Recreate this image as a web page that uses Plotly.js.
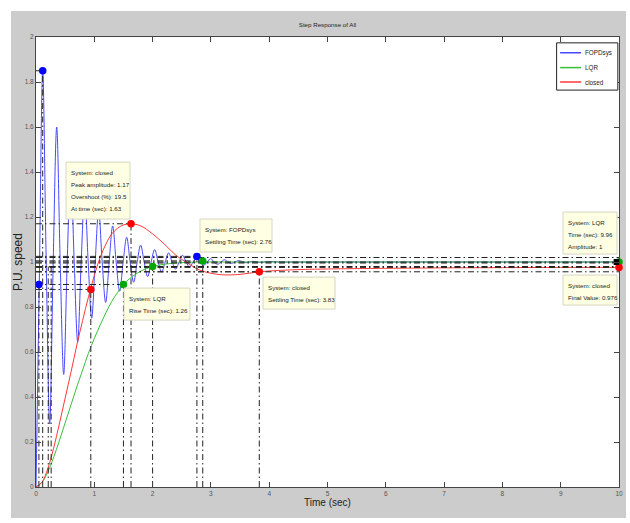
<!DOCTYPE html>
<html><head><meta charset="utf-8">
<script src="https://cdn.plot.ly/plotly-3.0.1.min.js"></script>
<style>
html,body{margin:0;padding:0;background:#ffffff;}
#chart{position:absolute;left:11px;top:11px;width:615px;height:507px;}
</style></head><body><div id="chart"></div><script>
// ---- data ----
const seriesNames = ["FOPDsys", "LQR", "closed"];
const seriesColors = ["#4848ff", "#38c038", "#ff3838"];
const xTicks = [0,1,2,3,4,5,6,7,8,9,10];
const yTicks = [0,0.2,0.4,0.6,0.8,1,1.2,1.4,1.6,1.8,2];

const blueT = [0,0.057,0.115,0.175,0.235,0.295,0.355,0.415,0.475,0.535,0.595,0.655,0.715,0.775,0.835,0.895,0.955,1.015,1.075,1.135,1.195,1.255,1.315,1.375,1.435,1.495,1.555,1.615,1.675,1.735,1.795,1.855,1.915,1.975,2.035,2.095,2.155,2.215,2.275,2.335,2.395,2.455,2.515,2.575,2.635,2.695,2.755,2.815,2.875,2.935,2.995,3.055,3.115,3.175,3.235,3.295,3.355,3.415,3.475,3.6,3.72,3.84,3.96,4.2,5,6,7,8,9,10];
const blueY = [0,0.92,1.85,1.0,0.28,1.0,1.60,1.0,0.50,1.0,1.42,1.0,0.645,1.0,1.31,1.0,0.75,1.0,1.23,1.0,0.82,1.0,1.16,1.0,0.87,1.0,1.11,1.0,0.91,1.0,1.075,1.0,0.935,1.0,1.055,1.0,0.955,1.0,1.04,1.0,0.968,1.0,1.03,1.0,0.978,1.0,1.022,1.0,0.985,1.0,1.015,1.0,0.99,1.0,1.01,1.0,0.994,1.0,1.006,0.997,1.003,0.998,1.002,1.0,1.0,1.0,1.0,1.0,1.0,1.0];

const greenT = [0,0.1,0.2,0.3,0.4,0.5,0.6,0.7,0.8,0.9,1.0,1.1,1.2,1.3,1.4,1.5,1.6,1.8,2.0,2.2,2.5,2.86,3.5,5,7,10];
const greenY = [0,0.02,0.065,0.13,0.205,0.285,0.365,0.445,0.52,0.595,0.66,0.72,0.775,0.825,0.865,0.9,0.925,0.96,0.98,0.99,0.997,1.0,1.0,1.0,1.0,1.0];

const redT = [0,0.1,0.2,0.3,0.4,0.5,0.6,0.7,0.8,0.9,1.0,1.1,1.2,1.3,1.4,1.5,1.63,1.8,2.0,2.2,2.4,2.6,2.8,3.0,3.2,3.5,3.83,4.2,4.6,5,6,7,8,9,10];
const redY = [0,0.02,0.08,0.17,0.28,0.395,0.51,0.63,0.74,0.845,0.94,1.02,1.08,1.125,1.15,1.165,1.17,1.16,1.125,1.08,1.03,0.995,0.965,0.95,0.943,0.945,0.9565,0.963,0.967,0.969,0.972,0.974,0.975,0.976,0.976];

// characteristic points (MATLAB step-response markers)
const blueMkT = [0.05,0.115,2.76];
const blueMkY = [0.9,1.85,1.025];
const greenMkT = [1.5,2.0,2.86,10];
const greenMkY = [0.9,0.98,1.005,1.0];
const redMkT = [0.94,1.63,3.83,10];
const redMkY = [0.878,1.17,0.9565,0.976];
const cursorT = [9.96];
const cursorY = [1.0];
// extra 10% rise-time guide lines
const riseStartT = [0.21,0.26];
const riseStartY = [0.98,0.98];
// settling-band / steady-state levels drawn across the plot
const refLevels = [1.02,1.0,0.9955,0.98,0.976,0.9565];

// data tips
const tips = [
  {x:0.515, y:1.444, w:64, h:57, lines:["System: closed","Peak amplitude: 1.17","Overshoot (%): 19.5","At time (sec): 1.63"]},
  {x:2.813, y:1.191, w:72, h:33, lines:["System: FOPDsys","Settling Time (sec): 2.76"]},
  {x:1.509, y:0.884, w:66, h:32, lines:["System: LQR","Rise Time (sec): 1.26"]},
  {x:3.894, y:0.933, w:72, h:32, lines:["System: closed","Settling Time (sec): 3.83"]},
  {x:9.04, y:1.222, w:54, h:42, lines:["System: LQR","Time (sec): 9.96","Amplitude: 1"]},
  {x:9.04, y:0.942, w:54, h:30, lines:["System: closed","Final Value: 0.976"]}
];

// ---- build traces ----
const FONT = '"Liberation Sans",Arial,sans-serif';
const lx = [], ly = [];
function seg(x0,y0,x1,y1){ lx.push(x0,x1,null); ly.push(y0,y1,null); }
refLevels.forEach(v => seg(0,v,10,v));
const allMk = [[blueMkT,blueMkY],[greenMkT,greenMkY],[redMkT,redMkY],[riseStartT,riseStartY]];
allMk.forEach(([ts,vs]) => ts.forEach((t,i) => {
  if (t < 9.9) { seg(t,0,t,vs[i]); seg(0,vs[i],t,vs[i]); }
}));

const traces = [
  {x:blueT, y:blueY, name:seriesNames[0], mode:'lines', showlegend:false, line:{color:seriesColors[0], width:1, shape:'spline', smoothing:1}},
  {x:greenT, y:greenY, name:seriesNames[1], mode:'lines', showlegend:false, line:{color:seriesColors[1], width:1, shape:'spline'}},
  {x:redT, y:redY, name:seriesNames[2], mode:'lines', showlegend:false, line:{color:seriesColors[2], width:1, shape:'spline'}},
  {x:lx, y:ly, mode:'lines', showlegend:false, hoverinfo:'skip', line:{color:'#222', width:1, dash:'6px,3px,1.5px,3px'}},
  {x:blueMkT, y:blueMkY, mode:'markers', showlegend:false, cliponaxis:false, marker:{color:'#0000ff', size:7.5}},
  {x:greenMkT, y:greenMkY, mode:'markers', showlegend:false, cliponaxis:false, marker:{color:'#00a800', size:7.5}},
  {x:redMkT, y:redMkY, mode:'markers', showlegend:false, cliponaxis:false, marker:{color:'#ff0000', size:7.5}},
  {x:cursorT, y:cursorY, mode:'markers', showlegend:false, cliponaxis:false, marker:{color:'#000', size:6, symbol:'square'}}
];

const shapes = [], annotations = [];
tips.forEach(b => {
  shapes.push({type:'rect', xref:'x', yref:'y', xsizemode:'pixel', ysizemode:'pixel',
    xanchor:b.x, yanchor:b.y, x0:0, x1:b.w, y0:-b.h, y1:0,
    fillcolor:'#ffffe4', line:{color:'#d6d6c2', width:1}, layer:'above'});
  b.lines.forEach((t,i) => annotations.push({x:b.x, y:b.y, xref:'x', yref:'y', text:t, showarrow:false,
    xanchor:'left', yanchor:'middle', xshift:3, yshift:-(10+i*12),
    font:{family:FONT, size:6.2, color:'#222'}}));
});

// legend box (MATLAB style, compact)
const lgX0 = 0.893, lgX1 = 0.998, lgY0 = 0.882, lgY1 = 0.987;
shapes.push({type:'rect', xref:'paper', yref:'paper', x0:lgX0, x1:lgX1, y0:lgY0, y1:lgY1,
  fillcolor:'#ffffff', line:{color:'#222', width:1}, layer:'above'});
const lgRows = [0.965, 0.932, 0.9];
seriesNames.forEach((n,i) => {
  shapes.push({type:'line', xref:'paper', yref:'paper', x0:0.899, x1:0.935, y0:lgRows[i], y1:lgRows[i],
    line:{color:seriesColors[i], width:1.5}, layer:'above'});
  annotations.push({xref:'paper', yref:'paper', x:0.939, y:lgRows[i], text:n, showarrow:false,
    xanchor:'left', yanchor:'middle', font:{family:FONT, size:6.3, color:'#222'}});
});

const layout = {
  width:615, height:507,
  margin:{l:25, r:7, t:26, b:31, pad:0},
  paper_bgcolor:'#cccccc', plot_bgcolor:'#ffffff',
  title:{text:'Step Response of All', font:{family:FONT, size:6.2, color:'#222'}, x:0.5, xref:'paper', y:0.972, yref:'container', yanchor:'middle'},
  xaxis:{range:[0,10], tickvals:xTicks, ticks:'inside', ticklen:5, tickcolor:'#444', showline:true, linecolor:'#444', linewidth:1, mirror:'ticks', showgrid:false, zeroline:false, automargin:false,
    tickfont:{family:FONT, size:6.5, color:'#555'},
    title:{text:'Time (sec)', font:{family:FONT, size:10, color:'#222'}, standoff:2}},
  yaxis:{range:[0,2], tickvals:yTicks, ticks:'inside', ticklen:5, tickcolor:'#444', showline:true, linecolor:'#444', linewidth:1, mirror:'ticks', showgrid:false, zeroline:false, automargin:false,
    tickfont:{family:FONT, size:6.5, color:'#555'},
    title:{text:'P.U. speed', font:{family:FONT, size:12, color:'#222'}, standoff:3}},
  shapes:shapes, annotations:annotations, showlegend:false
};
Plotly.newPlot('chart', traces, layout, {displayModeBar:false, staticPlot:true});
</script></body></html>
